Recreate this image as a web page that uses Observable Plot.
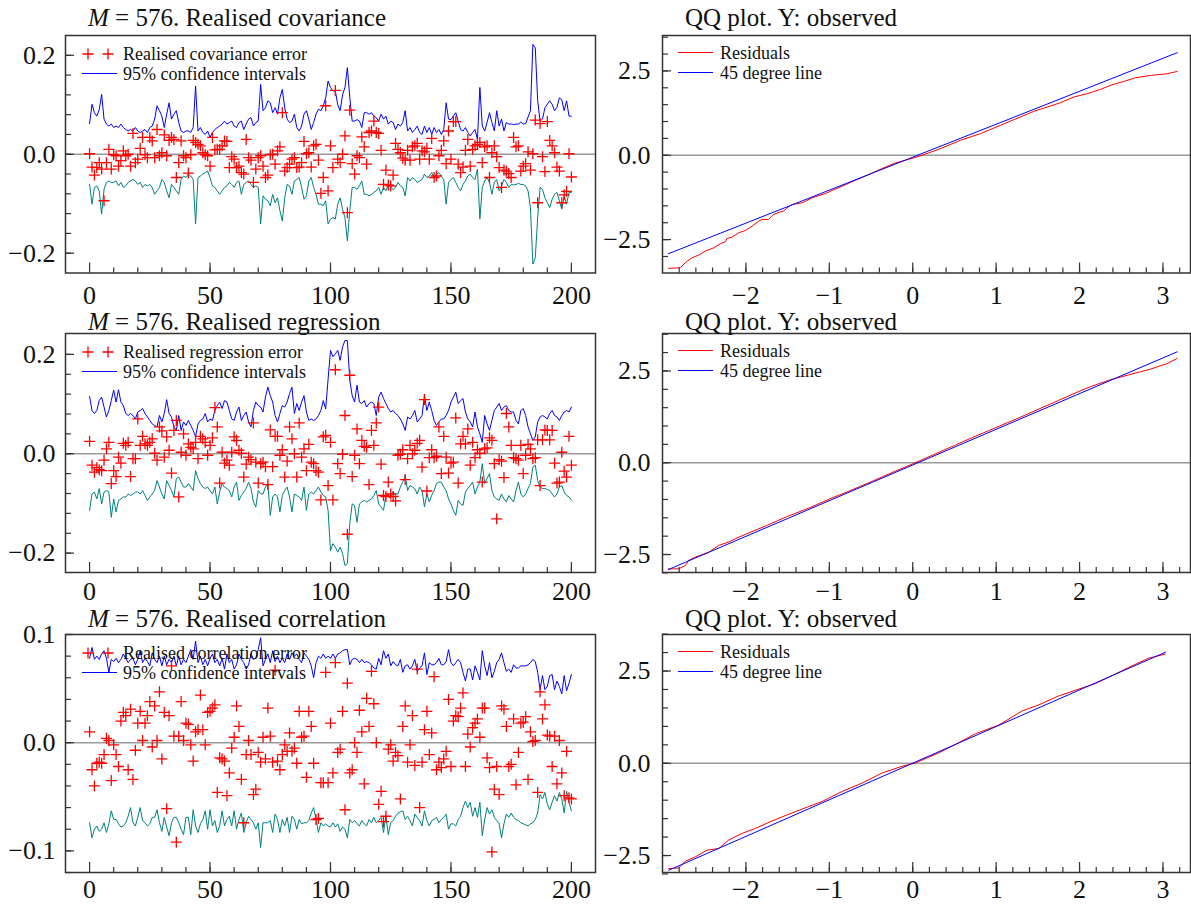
<!DOCTYPE html>
<html><head><meta charset="utf-8">
<script src="https://cdn.jsdelivr.net/npm/d3@7"></script>
<script src="https://cdn.jsdelivr.net/npm/@observablehq/plot@0.6"></script>
<style>
body{margin:0;background:#fff;}
#wrap{position:relative;width:1191px;height:909px;overflow:hidden;font-family:"Liberation Serif","Times New Roman",serif;color:#111;}
.title{position:absolute;font-size:25px;line-height:14px;white-space:nowrap;color:#111;}
</style></head><body><div id="wrap"></div>
<script>
// ---------------- DATA ----------------
const titlesLeft = ["Realised covariance", "Realised regression", "Realised correlation"];
const errorLabels = ["Realised covariance error", "Realised regression error", "Realised correlation error"];
const ciLabel = "95% confidence intervals";
const qqTitle = "QQ plot. Y: observed";
const qqLabels = ["Residuals", "45 degree line"];
const M = 576;

// Realised covariance (observations 0..200)
const covError = [0.001,-0.026,-0.042,-0.027,-0.017,-0.03,-0.094,-0.017,0.01,-0.03,
-0.001,-0.003,-0.024,-0.013,0.007,-0.003,0,-0.024,0.042,-0.017,
-0.01,0.012,0.034,-0.001,-0.007,0.034,0.027,-0.007,0.05,-0.003,
0.003,0.039,-0.003,0.028,0.034,0.03,-0.047,-0.017,0.027,-0.003,
-0.007,-0.038,-0.001,0.028,0.024,0.02,0.017,0.003,-0.001,-0.003,
-0.024,0.034,0.009,0.01,0.01,0.017,0.027,0.026,-0.027,-0.005,
-0.01,-0.027,-0.024,-0.037,-0.04,0.03,-0.007,-0.012,-0.057,-0.03,
-0.007,-0.003,-0.024,-0.047,-0.042,-0.001,0,-0.02,0.007,0.015,
0.084,-0.034,-0.027,-0.02,-0.01,-0.007,-0.027,-0.026,-0.017,0.026,
0.001,0.003,-0.026,0.017,0.02,-0.012,-0.079,-0.047,0.098,-0.074,
0.017,
-0.027,0.129,-0.01,-0.017,0,0.037,-0.118,0.089,-0.019,-0.04,
-0.003,-0.007,0.035,0.015,-0.02,0.044,0.047,0.067,0.044,0.042,
0.008,-0.061,-0.032,-0.062,-0.064,-0.042,0.022,0.01,0.003,-0.008,
-0.012,0.008,-0.012,0.015,0.017,0.022,-0.01,0.007,0.005,0.012,
-0.01,0.032,-0.047,-0.044,-0.003,0.008,0.027,-0.019,0.047,-0.01,
0.066,0.066,-0.02,-0.037,-0.026,0.008,0.03,-0.024,0.01,0.017,
0.02,0.024,-0.017,0.015,0.017,-0.047,0.003,0.017,-0.005,-0.027,
-0.067,-0.032,-0.034,-0.039,-0.047,0.034,0.015,0.017,-0.034,-0.024,
-0.019,0.005,-0.032,0.001,0.069,-0.098,0.062,-0.005,-0.035,0.066,
0.028,0.017,0.003,-0.026,-0.034,-0.098,-0.082,-0.075,0.001,-0.046];
const covUpper = [0.062,0.101,0.084,0.077,0.09,0.121,0.071,0.061,0.057,0.061,
0.054,0.057,0.054,0.061,0.054,0.05,0.047,0.05,0.047,0.054,
0.047,0.044,0.047,0.05,0.044,0.054,0.057,0.071,0.098,0.088,
0.077,0.054,0.081,0.104,0.071,0.081,0.088,0.064,0.047,0.044,
0.047,0.047,0.044,0.054,0.138,0.047,0.054,0.044,0.04,0.047,
0.034,0.044,0.05,0.054,0.057,0.061,0.067,0.061,0.064,0.067,
0.057,0.054,0.064,0.067,0.05,0.061,0.071,0.074,0.057,0.064,
0.067,0.141,0.088,0.094,0.108,0.104,0.084,0.094,0.081,0.114,
0.131,0.094,0.071,0.064,0.067,0.081,0.054,0.047,0.057,0.081,
0.088,0.071,0.05,0.064,0.081,0.091,0.088,0.098,0.114,0.148,
0.135,0.128,0.128,0.1,0.088,0.12,0.135,0.175,0.115,0.067,
0.067,0.07,0.067,0.054,0.084,0.084,0.081,0.084,0.077,0.074,
0.067,0.081,0.071,0.077,0.061,0.067,0.064,0.05,0.061,0.057,
0.064,0.088,0.047,0.054,0.044,0.05,0.057,0.044,0.04,0.057,
0.044,0.054,0.04,0.054,0.044,0.05,0.04,0.05,0.104,0.071,
0.07,0.077,0.084,0.067,0.05,0.047,0.054,0.044,0.037,0.044,
0.05,0.03,0.135,0.057,0.047,0.064,0.084,0.064,0.047,0.088,
0.057,0.071,0.047,0.064,0.061,0.061,0.06,0.061,0.061,0.065,
0.061,0.062,0.075,0.088,0.222,0.215,0.108,0.067,0.071,0.094,
0.101,0.108,0.101,0.088,0.095,0.114,0.11,0.088,0.108,0.077,0.077];
const covLower = [-0.061,-0.101,-0.067,-0.064,-0.074,-0.121,-0.071,-0.057,-0.054,-0.057,
-0.057,-0.054,-0.064,-0.057,-0.067,-0.064,-0.057,-0.054,-0.051,-0.054,
-0.061,-0.057,-0.067,-0.061,-0.064,-0.061,-0.067,-0.081,-0.074,-0.067,
-0.051,-0.057,-0.074,-0.088,-0.061,-0.067,-0.074,-0.081,-0.051,-0.044,
-0.047,-0.04,-0.044,-0.051,-0.141,-0.047,-0.044,-0.04,-0.037,-0.034,
-0.047,-0.064,-0.067,-0.074,-0.081,-0.074,-0.067,-0.064,-0.057,-0.061,
-0.067,-0.057,-0.054,-0.081,-0.061,-0.057,-0.054,-0.061,-0.067,-0.064,
-0.067,-0.141,-0.084,-0.091,-0.094,-0.104,-0.081,-0.098,-0.088,-0.114,
-0.135,-0.088,-0.061,-0.064,-0.081,-0.054,-0.051,-0.047,-0.067,-0.091,
-0.084,-0.054,-0.047,-0.067,-0.081,-0.101,-0.101,-0.104,-0.094,-0.141,
-0.131,-0.128,-0.131,-0.101,-0.088,-0.111,-0.128,-0.175,-0.114,-0.067,
-0.067,-0.071,-0.064,-0.054,-0.081,-0.081,-0.084,-0.081,-0.077,-0.074,
-0.067,-0.081,-0.067,-0.074,-0.061,-0.067,-0.071,-0.067,-0.057,-0.064,
-0.067,-0.084,-0.047,-0.054,-0.047,-0.051,-0.057,-0.054,-0.051,-0.04,
-0.047,-0.044,-0.037,-0.047,-0.04,-0.037,-0.044,-0.051,-0.101,-0.057,
-0.051,-0.047,-0.057,-0.067,-0.074,-0.061,-0.054,-0.044,-0.04,-0.047,
-0.051,-0.03,-0.131,-0.067,-0.054,-0.047,-0.057,-0.081,-0.057,-0.051,
-0.074,-0.064,-0.051,-0.057,-0.067,-0.061,-0.062,-0.061,-0.059,-0.061,
-0.061,-0.064,-0.074,-0.108,-0.222,-0.209,-0.128,-0.067,-0.071,-0.088,
-0.098,-0.108,-0.091,-0.081,-0.077,-0.094,-0.111,-0.084,-0.101,-0.077,-0.077];

// Realised regression
const regError = [0.025,-0.023,-0.037,-0.028,-0.032,-0.034,-0.013,0.01,0.023,-0.06,
-0.034,-0.046,-0.007,-0.019,0.021,0.017,0.023,-0.046,-0.01,-0.01,
0.07,0.017,0.035,0.02,0.017,0.023,0.03,0.001,-0.013,0.054,
0.046,-0.007,0.034,0.007,-0.039,0.047,0.067,-0.087,0.003,0.04,
-0.003,0.02,0.013,0.01,0.023,-0.01,0.035,0.03,0.023,-0.003,
0.017,0.032,0.093,0.054,-0.059,0.003,-0.019,-0.013,-0.023,0.003,
0.034,0.027,0.007,0.001,-0.047,-0.021,-0.007,-0.012,0.062,-0.017,
-0.059,-0.02,-0.017,-0.026,-0.062,0.048,-0.026,0.035,0.035,-0.003,
0.008,-0.047,-0.015,0.054,0.03,0,-0.047,0.062,-0.007,0.01,
-0.034,0.019,-0.017,-0.02,-0.034,-0.037,-0.093,0.034,0.037,-0.064,
0.023,
-0.093,0.169,-0.02,-0.04,-0.001,0.077,-0.162,0.158,-0.046,-0.003,
0.05,-0.02,0.027,0.015,0.013,-0.062,0.047,0.017,0.062,0.094,
-0.021,-0.084,-0.086,-0.057,-0.081,-0.086,-0.095,-0.003,-0.001,0.008,
-0.052,-0.01,0.017,0,0.007,0.021,0.027,-0.027,0.109,-0.075,
-0.008,0.008,-0.008,-0.005,0.054,-0.04,0.035,-0.007,-0.039,-0.019,
-0.017,0.072,-0.059,0.02,0.035,0.02,0.05,-0.023,0.023,-0.008,
0.008,0.001,-0.057,0.01,0.012,0.032,0.027,-0.02,-0.131,-0.012,
-0.015,-0.048,0.081,0.054,0.017,-0.008,-0.01,-0.013,0.017,-0.04,
-0.003,0.019,0.01,-0.01,-0.008,0.028,-0.064,0.028,0.048,0.047,
0.028,0.047,-0.019,-0.059,-0.057,0.003,-0.035,-0.047,0.035,-0.023];
const regUpper = [0.115,0.087,0.081,0.087,0.107,0.114,0.094,0.074,0.087,0.107,
0.128,0.104,0.129,0.104,0.097,0.081,0.077,0.081,0.077,0.07,
0.084,0.087,0.091,0.081,0.074,0.067,0.06,0.057,0.054,0.077,
0.064,0.081,0.109,0.081,0.074,0.054,0.047,0.077,0.047,0.064,
0.057,0.067,0.057,0.047,0.034,0.06,0.067,0.07,0.081,0.064,
0.07,0.067,0.087,0.097,0.104,0.091,0.107,0.104,0.087,0.07,
0.067,0.084,0.094,0.067,0.077,0.084,0.064,0.054,0.087,0.104,
0.097,0.094,0.084,0.114,0.134,0.117,0.104,0.077,0.064,0.081,
0.097,0.094,0.104,0.121,0.134,0.081,0.101,0.087,0.104,0.117,
0.084,0.067,0.07,0.067,0.07,0.077,0.087,0.107,0.09,0.15,
0.208,0.195,0.201,0.208,0.188,0.215,0.228,0.228,0.148,0.117,
0.104,0.138,0.104,0.101,0.107,0.094,0.101,0.104,0.101,0.077,
0.114,0.124,0.111,0.101,0.091,0.084,0.087,0.081,0.077,0.07,
0.06,0.047,0.074,0.07,0.077,0.087,0.064,0.07,0.077,0.117,
0.087,0.104,0.087,0.067,0.057,0.064,0.07,0.07,0.077,0.087,
0.104,0.114,0.124,0.101,0.107,0.111,0.084,0.07,0.064,0.054,
0.084,0.054,0.04,0.023,0.077,0.06,0.047,0.067,0.087,0.094,
0.101,0.087,0.094,0.097,0.087,0.084,0.084,0.067,0.06,0.087,
0.091,0.077,0.054,0.04,0.027,0.034,0.064,0.074,0.077,0.074,
0.07,0.081,0.087,0.077,0.074,0.067,0.077,0.084,0.087,0.084,0.094];
const regLower = [-0.114,-0.081,-0.077,-0.091,-0.07,-0.101,-0.077,-0.074,-0.077,-0.128,
-0.091,-0.117,-0.094,-0.091,-0.087,-0.087,-0.081,-0.084,-0.081,-0.077,
-0.077,-0.081,-0.074,-0.084,-0.094,-0.087,-0.081,-0.074,-0.054,-0.067,
-0.081,-0.091,-0.054,-0.064,-0.074,-0.087,-0.05,-0.047,-0.057,-0.067,
-0.067,-0.06,-0.067,-0.074,-0.034,-0.05,-0.06,-0.067,-0.07,-0.067,
-0.074,-0.081,-0.067,-0.101,-0.077,-0.06,-0.067,-0.07,-0.074,-0.087,
-0.067,-0.057,-0.094,-0.084,-0.077,-0.07,-0.057,-0.07,-0.097,-0.107,
-0.074,-0.081,-0.081,-0.067,-0.06,-0.124,-0.087,-0.081,-0.087,-0.117,
-0.084,-0.074,-0.067,-0.087,-0.117,-0.081,-0.084,-0.087,-0.094,-0.067,
-0.114,-0.081,-0.077,-0.081,-0.074,-0.067,-0.077,-0.084,-0.087,-0.114,
-0.195,-0.181,-0.188,-0.198,-0.188,-0.201,-0.225,-0.221,-0.141,-0.101,
-0.104,-0.138,-0.101,-0.097,-0.094,-0.097,-0.094,-0.091,-0.084,-0.074,
-0.101,-0.107,-0.114,-0.084,-0.087,-0.087,-0.077,-0.081,-0.081,-0.067,
-0.057,-0.044,-0.074,-0.064,-0.067,-0.07,-0.081,-0.067,-0.074,-0.107,
-0.081,-0.097,-0.084,-0.074,-0.06,-0.057,-0.057,-0.067,-0.074,-0.091,
-0.101,-0.114,-0.124,-0.094,-0.101,-0.104,-0.077,-0.07,-0.064,-0.057,
-0.081,-0.067,-0.057,-0.02,-0.06,-0.05,-0.04,-0.074,-0.087,-0.091,
-0.094,-0.081,-0.091,-0.097,-0.084,-0.091,-0.097,-0.074,-0.057,-0.081,
-0.087,-0.081,-0.07,-0.06,-0.027,-0.023,-0.054,-0.067,-0.07,-0.07,
-0.072,-0.074,-0.081,-0.087,-0.081,-0.067,-0.064,-0.077,-0.084,-0.087,-0.093];

// Realised correlation
const corError = [0.01,-0.025,-0.04,-0.019,-0.018,-0.019,-0.011,0.004,0.002,-0.035,
-0.002,-0.011,-0.022,0.02,0.028,0.025,-0.025,0.031,-0.034,-0.007,
0.018,0.029,0.002,0.018,0.025,0.038,-0.004,0.034,0.002,0.047,
-0.015,0.028,-0.061,0.025,0.071,0.006,-0.092,0.006,0.038,0.002,
0.018,0.017,-0.002,-0.017,0.01,0.012,0.044,0.012,-0.002,0.028,
0.029,0.032,0.035,-0.046,-0.014,-0.015,-0.017,-0.049,-0.028,-0.005,
0.005,0.034,0.015,-0.034,-0.074,-0.011,0.002,-0.011,-0.048,-0.043,
-0.009,-0.018,0.005,-0.015,0.032,0.006,-0.018,0.067,-0.017,-0.025,
-0.011,-0.002,-0.008,0.009,-0.008,-0.005,-0.019,0.029,0.005,0.006,
-0.032,0.029,0.015,-0.019,-0.071,-0.07,-0.037,-0.037,0.065,-0.037,
0.018,
-0.028,0.074,-0.009,-0.006,0.029,-0.062,0.055,-0.028,-0.025,0,
-0.009,0.03,0.01,-0.038,0.041,0.015,0.066,0.036,0,-0.057,
-0.045,-0.073,-0.068,-0.006,-0.002,-0.017,-0.009,-0.012,-0.052,0.015,
0.034,-0.018,-0.002,0.025,-0.021,0.068,-0.06,-0.018,0.012,0.029,
-0.011,0.009,0.061,-0.025,-0.018,-0.023,-0.015,-0.008,0.04,-0.022,
0.02,0.025,0.024,0.032,0.046,-0.022,0.008,-0.004,0.014,0.018,
0.022,0.005,0.032,0.032,-0.014,-0.023,-0.101,-0.043,-0.022,-0.048,
0.034,0.031,0.015,-0.022,-0.02,0.022,-0.039,-0.009,0.018,0.019,
0.024,-0.034,0.01,0.001,0.002,-0.046,0.047,0.022,0.035,0.007,
0.006,-0.022,0.006,-0.038,0.002,-0.028,-0.049,-0.008,-0.051,-0.052];
const corUpper = [0.078,0.088,0.077,0.08,0.077,0.082,0.085,0.078,0.065,0.077,
0.075,0.078,0.074,0.077,0.082,0.078,0.074,0.077,0.078,0.072,
0.077,0.085,0.074,0.078,0.075,0.071,0.083,0.077,0.074,0.08,
0.071,0.08,0.072,0.077,0.074,0.08,0.071,0.08,0.072,0.077,
0.074,0.08,0.086,0.077,0.094,0.074,0.08,0.072,0.077,0.071,
0.078,0.082,0.074,0.077,0.071,0.078,0.068,0.082,0.074,0.077,
0.068,0.072,0.082,0.077,0.074,0.068,0.072,0.082,0.077,0.078,
0.086,0.097,0.071,0.077,0.082,0.074,0.085,0.075,0.08,0.074,
0.078,0.074,0.082,0.077,0.083,0.08,0.082,0.077,0.074,0.083,
0.08,0.077,0.071,0.06,0.074,0.08,0.078,0.082,0.078,0.08,
0.078,0.082,0.078,0.082,0.083,0.085,0.086,0.086,0.072,0.077,
0.078,0.077,0.074,0.077,0.074,0.075,0.074,0.072,0.069,0.068,
0.078,0.072,0.085,0.078,0.082,0.071,0.075,0.072,0.071,0.077,
0.065,0.071,0.072,0.068,0.071,0.077,0.066,0.069,0.071,0.083,
0.063,0.074,0.072,0.072,0.074,0.078,0.072,0.072,0.075,0.086,
0.074,0.071,0.074,0.077,0.074,0.065,0.057,0.068,0.068,0.058,
0.071,0.065,0.058,0.085,0.071,0.062,0.074,0.06,0.066,0.074,
0.077,0.083,0.074,0.066,0.068,0.065,0.072,0.069,0.069,0.071,
0.071,0.071,0.072,0.074,0.077,0.075,0.065,0.049,0.062,0.049,
0.052,0.062,0.063,0.049,0.057,0.052,0.045,0.062,0.048,0.055,0.063];
const corLower = [-0.074,-0.088,-0.08,-0.077,-0.082,-0.08,-0.074,-0.083,-0.075,-0.063,
-0.071,-0.071,-0.075,-0.078,-0.077,-0.074,-0.068,-0.06,-0.074,-0.077,
-0.069,-0.06,-0.072,-0.074,-0.077,-0.075,-0.069,-0.069,-0.062,-0.074,
-0.082,-0.069,-0.078,-0.086,-0.074,-0.069,-0.069,-0.074,-0.08,-0.085,
-0.069,-0.069,-0.085,-0.062,-0.077,-0.083,-0.075,-0.071,-0.063,-0.08,
-0.062,-0.077,-0.072,-0.083,-0.077,-0.063,-0.077,-0.071,-0.068,-0.077,
-0.063,-0.08,-0.071,-0.065,-0.083,-0.074,-0.068,-0.071,-0.074,-0.08,
-0.074,-0.097,-0.074,-0.074,-0.074,-0.072,-0.083,-0.066,-0.071,-0.083,
-0.071,-0.077,-0.069,-0.083,-0.068,-0.071,-0.08,-0.071,-0.075,-0.074,
-0.074,-0.072,-0.065,-0.06,-0.071,-0.083,-0.074,-0.077,-0.075,-0.077,
-0.078,-0.074,-0.078,-0.075,-0.082,-0.078,-0.08,-0.088,-0.071,-0.074,
-0.072,-0.075,-0.077,-0.072,-0.075,-0.077,-0.071,-0.074,-0.069,-0.074,
-0.072,-0.069,-0.083,-0.068,-0.085,-0.074,-0.072,-0.068,-0.065,-0.064,
-0.063,-0.071,-0.068,-0.072,-0.077,-0.066,-0.069,-0.072,-0.077,-0.063,
-0.072,-0.077,-0.072,-0.071,-0.069,-0.074,-0.071,-0.069,-0.066,-0.08,
-0.075,-0.075,-0.077,-0.071,-0.068,-0.06,-0.054,-0.06,-0.055,-0.068,
-0.06,-0.069,-0.055,-0.086,-0.071,-0.06,-0.066,-0.062,-0.069,-0.072,
-0.075,-0.088,-0.075,-0.066,-0.069,-0.065,-0.069,-0.071,-0.072,-0.074,
-0.075,-0.076,-0.077,-0.075,-0.074,-0.071,-0.065,-0.048,-0.052,-0.046,
-0.057,-0.062,-0.055,-0.049,-0.054,-0.046,-0.052,-0.065,-0.045,-0.055,-0.063];

// QQ plots: theoretical quantile (x) vs residual quantile (y)
const qqCovX = [-2.926,-2.786,-2.726,-2.646,-2.566,-2.486,-2.386,-2.306,-2.246,-2.226,-2.166,-2.086,-2.006,-1.926,-1.846,-1.806,-1.727,-1.667,-1.587,-1.547,-1.507,-1.447,-1.327,-1.207,-1.047,-0.967,-0.847,-0.687,-0.528,-0.368,-0.208,-0.048,0.092,0.332,0.572,0.812,1.051,1.291,1.451,1.611,1.771,1.931,2.091,2.251,2.391,2.531,2.671,2.851,3.05,3.17];
const qqCovY = [-3.353,-3.333,-3.185,-3.037,-2.959,-2.84,-2.742,-2.623,-2.564,-2.465,-2.426,-2.298,-2.229,-2.101,-1.953,-1.903,-1.903,-1.755,-1.677,-1.657,-1.558,-1.46,-1.41,-1.262,-1.134,-1.045,-0.917,-0.74,-0.572,-0.394,-0.227,-0.12,-0.02,0.197,0.444,0.641,0.888,1.134,1.302,1.43,1.558,1.726,1.824,1.953,2.091,2.189,2.298,2.367,2.416,2.485];
const qqCovLineX = [-2.93, 3.17];
const qqCovLineY = [-2.92, 3.04];

const qqRegX = [-2.926,-2.806,-2.726,-2.686,-2.606,-2.446,-2.326,-2.206,-2.126,-2.006,-1.75,-1.5,-1.25,-1.0,-0.75,-0.5,-0.25,0,0.25,0.5,0.75,1.0,1.25,1.5,1.75,2.07,2.23,2.35,2.6,2.85,3.05,3.17];
const qqRegY = [-2.89,-2.89,-2.8,-2.66,-2.57,-2.44,-2.25,-2.16,-2.07,-1.95,-1.71,-1.46,-1.24,-0.99,-0.76,-0.52,-0.27,-0.03,0.22,0.47,0.72,0.96,1.2,1.45,1.7,2.02,2.15,2.245,2.4,2.55,2.7,2.84];
const qqRegLineX = [-2.93, 3.17];
const qqRegLineY = [-2.91, 3.02];

const qqCorX = [-2.926,-2.806,-2.726,-2.606,-2.466,-2.326,-2.206,-2.046,-1.886,-1.687,-1.487,-1.247,-1.087,-0.847,-0.607,-0.368,-0.128,0.032,0.312,0.512,0.751,1.031,1.311,1.511,1.751,1.95,2.19,2.43,2.59,2.83,3.03];
const qqCorY = [-2.855,-2.836,-2.655,-2.536,-2.355,-2.31,-2.08,-1.9,-1.764,-1.564,-1.382,-1.173,-1.036,-0.764,-0.536,-0.264,-0.082,0.009,0.282,0.509,0.8,1.036,1.418,1.582,1.827,1.98,2.16,2.42,2.6,2.85,2.96];
const qqCorLineX = [-2.926, 3.03];
const qqCorLineY = [-2.9, 3.01];

// Axis ticks
const leftXMajor = [0, 50, 100, 150, 200];
const leftXMinor = d3.range(10, 201, 10);
const covYMajor = [-0.2, 0, 0.2];
const covYMinor = [-0.2, -0.16, -0.12, -0.08, -0.04, 0, 0.04, 0.08, 0.12, 0.16, 0.2];
const corYMajor = [-0.1, 0, 0.1];
const corYMinor = [-0.12, -0.1, -0.08, -0.06, -0.04, -0.02, 0, 0.02, 0.04, 0.06, 0.08, 0.1];
const qqXMajor = [-2, -1, 0, 1, 2, 3];
const qqXMinor = d3.range(-2.8, 3.31, 0.2);
const qqYMajor = [-2.5, 0, 2.5];
const qqYMinor = [-3, -2.5, -2, -1.5, -1, -0.5, 0, 0.5, 1, 1.5, 2, 2.5, 3, 3.5];

// ---------------- DRAWING ----------------
const wrap = document.getElementById("wrap");
const INK = "#111", FRAME = "#333", RED = "#ff0000", BLUE = "#0000ff", TEAL = "#008080", ZERO = "#9a9a9a";
const f1 = d3.format(".1f"), fInt = d3.format("d");
const plusSymbol = {draw(ctx, size) { const r = Math.sqrt(size / Math.PI); ctx.moveTo(-r, 0); ctx.lineTo(r, 0); ctx.moveTo(0, -r); ctx.lineTo(0, r); }};

function put(node, left, top) {
  node.style.position = "absolute"; node.style.left = left + "px"; node.style.top = top + "px";
  wrap.appendChild(node);
}
function addTitle(html, frameLeft, frameTop, gap) {
  const d = document.createElement("div");
  d.className = "title"; d.innerHTML = html;
  put(d, frameLeft + 23, frameTop - gap - 15.4);
}
function axisMarks(xMajor, xMinor, yMajor, yMinor, xFmt, yFmt, yPad, xPad) {
  const common = {color: FRAME, strokeWidth: 1.2, label: null};
  return [
    Plot.axisX(xMinor, {...common, tickSize: -5, fill: "none"}),
    Plot.axisX(xMajor, {...common, tickSize: -10, tickPadding: xPad, tickFormat: xFmt, fill: INK}),
    Plot.axisY(yMinor, {...common, tickSize: -6, fill: "none"}),
    Plot.axisY(yMajor, {...common, tickSize: -9, tickPadding: yPad, tickFormat: yFmt, fill: INK})
  ];
}
const styleBase = {fontFamily: "Liberation Serif, Times New Roman, serif", fontSize: "26px", color: INK, background: "transparent", overflow: "visible"};

function leftPanel(k, err, up, lo, yDomain, yMajor, yMinor, frameTop, frameH, xPad, mb, gap) {
  const mt = 10;
  const plot = Plot.plot({
    width: 600, height: mt + frameH + mb,
    marginLeft: 65, marginRight: 5, marginTop: mt, marginBottom: mb,
    x: {domain: [-10, 210]}, y: {domain: yDomain},
    style: styleBase,
    marks: [
      Plot.ruleY([0], {stroke: ZERO, strokeWidth: 1.5}),
      Plot.lineY(up, {x: (d, i) => i, y: d => d, stroke: BLUE, strokeWidth: 1}),
      Plot.lineY(lo, {x: (d, i) => i, y: d => d, stroke: TEAL, strokeWidth: 1}),
      Plot.dot(err, {x: (d, i) => i, y: d => d, symbol: plusSymbol, r: 5.5, stroke: RED, fill: "none", strokeWidth: 1.3}),
      ...axisMarks(leftXMajor, leftXMinor, yMajor, yMinor, fInt, f1, 19, xPad),
      Plot.frame({stroke: FRAME, strokeWidth: 1.5})
    ]
  });
  put(plot, 0, frameTop - mt);
  addTitle(`<i>M</i> = ${M}. ${titlesLeft[k]}`, 65, frameTop, gap);
  const svg = d3.create("svg").attr("width", 320).attr("height", 50)
    .style("overflow", "visible").style("font-family", "Liberation Serif, Times New Roman, serif").style("font-size", "18px");
  [23, 43].forEach(dx => svg.append("path").attr("d", `M${dx - 5.5},19H${dx + 5.5}M${dx},13.5V24.5`).attr("stroke", RED).attr("stroke-width", 1.3).attr("fill", "none"));
  svg.append("text").attr("x", 58).attr("y", 19).attr("dy", "0.35em").attr("fill", INK).text(errorLabels[k]);
  svg.append("line").attr("x1", 17).attr("x2", 52).attr("y1", 38.5).attr("y2", 38.5).attr("stroke", BLUE).attr("stroke-width", 1);
  svg.append("text").attr("x", 58).attr("y", 38.5).attr("dy", "0.35em").attr("fill", INK).text(ciLabel);
  put(svg.node(), 65, frameTop);
}

function qqPanel(qx, qy, lx, ly, yDomain, frameTop, frameH, xPad, mb, gap) {
  const mt = 10;
  const plot = Plot.plot({
    width: 591, height: mt + frameH + mb,
    marginLeft: 62, marginRight: 1, marginTop: mt, marginBottom: mb,
    x: {domain: [-3, 3.33]}, y: {domain: yDomain},
    style: styleBase,
    marks: [
      Plot.ruleY([0], {stroke: ZERO, strokeWidth: 1.5}),
      Plot.line(qx, {x: d => d, y: (d, i) => qy[i], stroke: RED, strokeWidth: 1}),
      Plot.line(lx, {x: d => d, y: (d, i) => ly[i], stroke: BLUE, strokeWidth: 1}),
      ...axisMarks(qqXMajor, qqXMinor, qqYMajor, qqYMinor, fInt, f1, 21, xPad),
      Plot.frame({stroke: FRAME, strokeWidth: 1.5})
    ]
  });
  put(plot, 600, frameTop - mt);
  addTitle(qqTitle, 662, frameTop, gap);
  const svg = d3.create("svg").attr("width", 300).attr("height", 50)
    .style("overflow", "visible").style("font-family", "Liberation Serif, Times New Roman, serif").style("font-size", "18px");
  [[RED, 17.5], [BLUE, 37.5]].forEach(([c, y], j) => {
    svg.append("line").attr("x1", 16).attr("x2", 51).attr("y1", y).attr("y2", y).attr("stroke", c).attr("stroke-width", 1);
    svg.append("text").attr("x", 58).attr("y", y).attr("dy", "0.35em").attr("fill", INK).text(qqLabels[j]);
  });
  put(svg.node(), 662, frameTop);
}

leftPanel(0, covError, covUpper, covLower, [-0.24, 0.24], covYMajor, covYMinor, 34.5, 237.5, 23, 40, 8);
leftPanel(1, regError, regUpper, regLower, [-0.239, 0.242], covYMajor, covYMinor, 333, 239, 19, 38, 3);
leftPanel(2, corError, corUpper, corLower, [-0.12, 0.1], corYMajor, corYMinor, 634, 238, 17, 36, 7);
qqPanel(qqCovX, qqCovY, qqCovLineX, qqCovLineY, [-3.49, 3.55], 34.5, 237.5, 23, 40, 8);
qqPanel(qqRegX, qqRegY, qqRegLineX, qqRegLineY, [-2.99, 3.52], 333, 239, 19, 38, 3);
qqPanel(qqCorX, qqCorY, qqCorLineX, qqCorLineY, [-2.96, 3.49], 634, 238, 17, 36, 7);
</script>
</body></html>
